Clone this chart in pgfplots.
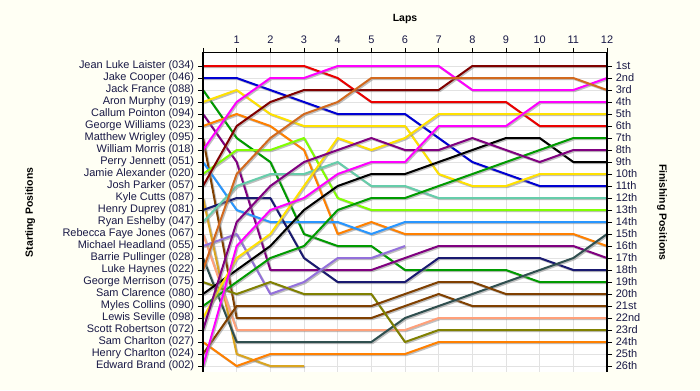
\documentclass[border=0pt]{standalone}
\usepackage{fontspec}
\setmainfont{Liberation Sans}
\usepackage{pgfplots}
\pgfplotsset{compat=1.18}
\definecolor{bgc}{RGB}{255,255,244}
\definecolor{txt}{RGB}{25,25,70}
\definecolor{gridc}{RGB}{226,226,226}
\definecolor{cA}{RGB}{235,0,0}
\definecolor{cB}{RGB}{0,0,210}
\definecolor{cC}{RGB}{0,155,0}
\definecolor{cD}{RGB}{255,225,0}
\definecolor{cE}{RGB}{128,0,128}
\definecolor{cF}{RGB}{255,128,0}
\definecolor{cG}{RGB}{128,64,0}
\definecolor{cH}{RGB}{255,0,255}
\definecolor{cI}{RGB}{40,150,255}
\definecolor{cJ}{RGB}{128,255,0}
\definecolor{cK}{RGB}{128,0,0}
\definecolor{cL}{RGB}{218,165,32}
\definecolor{cM}{RGB}{25,25,112}
\definecolor{cN}{RGB}{102,205,170}
\definecolor{cO}{RGB}{255,160,122}
\definecolor{cP}{RGB}{147,112,219}
\definecolor{cQ}{RGB}{47,79,79}
\definecolor{cR}{RGB}{210,105,30}
\definecolor{cS}{RGB}{128,128,0}
\definecolor{cT}{RGB}{0,0,0}
\begin{document}
\fontsize{11}{12}\selectfont
\begin{tikzpicture}[x=1bp,y=1bp]
\useasboundingbox (0,0) rectangle (700,-390);
\fill[bgc] (0,0) rectangle (700,-390);
\pgfplotsset{
  bumpbase/.style={
    at={(203bp,-52.8bp)}, anchor=north west, scale only axis,
    width=404bp, height=319.2bp,
    xmin=0, xmax=12, ymin=-0.1, ymax=26.5, y dir=reverse,
    tick align=outside, major tick length=5bp,
    tick style={black, line width=0.8bp},
    ticklabel style={font=\fontsize{11}{12}\selectfont, text=txt},
    /pgf/number format/assume math mode=true,
    axis line style={draw=none},
    clip=false,
  }
}
\begin{axis}[bumpbase,
  xtick={0,1,...,12}, xticklabels={,1,2,3,4,5,6,7,8,9,10,11,12},
  xticklabel pos=upper, xtick pos=upper,
  ytick={1,2,...,26}, ytick pos=left,
  yticklabels={Jean Luke Laister (034),Jake Cooper (046),Jack France (088),Aron Murphy (019),Callum Pointon (094),George Williams (023),Matthew Wrigley (095),William Morris (018),Perry Jennett (051),Jamie Alexander (020),Josh Parker (057),Kyle Cutts (087),Henry Duprey (081),Ryan Eshelby (047),Rebecca Faye Jones (067),Michael Headland (055),Barrie Pullinger (028),Luke Haynes (022),George Merrison (075),Sam Clarence (080),Myles Collins (090),Lewis Seville (098),Scott Robertson (072),Sam Charlton (027),Henry Charlton (024),Edward Brand (002)},
  grid=major, grid style={gridc, line width=0.8bp},
  xlabel={Laps}, xlabel style={font=\bfseries\fontsize{10.5}{12}\selectfont, at={(axis description cs:0.5,1)}, anchor=center, yshift=34bp},
  ylabel={Starting Positions}, ylabel style={font=\bfseries\fontsize{10.5}{12}\selectfont, at={(axis description cs:-0.428,0.5)}, anchor=center},
  every axis plot/.append style={line width=2bp, line join=round, mark=none,
    preaction={draw=black!45, opacity=0.55, line width=2bp, transform canvas={xshift=1.2bp, yshift=-1.2bp}}},
  axis background/.style={fill=white},
]
\addplot[cA] coordinates {(0,1)(1,1)(2,1)(3,1)(4,2)(5,4)(6,4)(7,4)(8,4)(9,4)(10,6)(11,6)(12,6)};
\addplot[cB] coordinates {(0,2)(1,2)(2,3)(3,4)(4,5)(5,5)(6,5)(7,7)(8,9)(9,10)(10,11)(11,11)(12,11)};
\addplot[cC] coordinates {(0,3)(1,7)(2,9)(3,15)(4,16)(5,16)(6,18)(7,18)(8,18)(9,18)(10,19)(11,19)(12,19)};
\addplot[cD] coordinates {(0,4)(1,3)(2,5)(3,6)(4,6)(5,6)(6,6)(7,10)(8,11)(9,11)(10,10)(11,10)(12,10)};
\addplot[cE] coordinates {(0,5)(1,9)(2,18)(3,18)(4,18)(5,18)(6,17)(7,16)(8,16)(9,16)(10,16)(11,16)(12,17)};
\addplot[cF] coordinates {(0,6)(1,5)(2,6)(3,8)(4,15)(5,14)(6,15)(7,15)(8,15)(9,15)(10,15)(11,15)(12,16)};
\addplot[cG] coordinates {(0,7)(1,22)(2,22)(3,22)(4,22)(5,22)(6,21)(7,20)(8,21)(9,21)(10,21)(11,21)(12,21)};
\addplot[cH] coordinates {(0,8)(1,4)(2,2)(3,2)(4,1)(5,1)(6,1)(7,1)(8,3)(9,3)(10,3)(11,3)(12,2)};
\addplot[cI] coordinates {(0,9)(1,13)(2,14)(3,14)(4,14)(5,15)(6,14)(7,14)(8,14)(9,14)(10,14)(11,14)(12,14)};
\addplot[cJ] coordinates {(0,10)(1,8)(2,8)(3,7)(4,12)(5,13)(6,13)(7,13)(8,13)(9,13)(10,13)(11,13)(12,13)};
\addplot[cK] coordinates {(0,11)(1,6)(2,4)(3,3)(4,3)(5,3)(6,3)(7,3)(8,1)(9,1)(10,1)(11,1)(12,1)};
\addplot[cL] coordinates {(0,12)(1,25)(2,26)(3,26)};
\addplot[cM] coordinates {(0,13)(1,12)(2,12)(3,17)(4,19)(5,19)(6,19)(7,17)(8,17)(9,17)(10,17)(11,18)(12,18)};
\addplot[cN] coordinates {(0,14)(1,11)(2,10)(3,10)(4,9)(5,11)(6,11)(7,12)(8,12)(9,12)(10,12)(11,12)(12,12)};
\addplot[cO] coordinates {(0,15)(1,23)(2,23)(3,23)(4,23)(5,23)(6,23)(7,22)(8,22)(9,22)(10,22)(11,22)(12,22)};
\addplot[cP] coordinates {(0,16)(1,15)(2,20)(3,19)(4,17)(5,17)(6,16)};
\addplot[cQ] coordinates {(0,17)(1,24)(2,24)(3,24)(4,24)(5,24)(6,22)(7,21)(8,20)(9,19)(10,18)(11,17)(12,15)};
\addplot[cR] coordinates {(0,18)(1,10)(2,7)(3,5)(4,4)(5,2)(6,2)(7,2)(8,2)(9,2)(10,2)(11,2)(12,3)};
\addplot[cS] coordinates {(0,19)(1,20)(2,19)(3,20)(4,20)(5,20)(6,24)(7,23)(8,23)(9,23)(10,23)(11,23)(12,23)};
\addplot[cT] coordinates {(0,20)(1,18)(2,16)(3,13)(4,11)(5,10)(6,10)(7,9)(8,8)(9,7)(10,7)(11,9)(12,9)};
\addplot[cC] coordinates {(0,21)(1,19)(2,17)(3,16)(4,13)(5,12)(6,12)(7,11)(8,10)(9,9)(10,8)(11,7)(12,7)};
\addplot[cD] coordinates {(0,22)(1,17)(2,15)(3,11)(4,7)(5,8)(6,7)(7,5)(8,5)(9,5)(10,5)(11,5)(12,5)};
\addplot[cE] coordinates {(0,23)(1,14)(2,11)(3,9)(4,8)(5,7)(6,8)(7,8)(8,7)(9,8)(10,9)(11,8)(12,8)};
\addplot[cF] coordinates {(0,24)(1,26)(2,25)(3,25)(4,25)(5,25)(6,25)(7,24)(8,24)(9,24)(10,24)(11,24)(12,24)};
\addplot[cG] coordinates {(0,25)(1,21)(2,21)(3,21)(4,21)(5,21)(6,20)(7,19)(8,19)(9,20)(10,20)(11,20)(12,20)};
\addplot[cH] coordinates {(0,26)(1,16)(2,13)(3,12)(4,10)(5,9)(6,9)(7,6)(8,6)(9,6)(10,4)(11,4)(12,4)};
\draw[black, line width=1.2bp] (axis description cs:0,0) -- (axis description cs:0,1) -- (axis description cs:1,1);
\end{axis}
\begin{axis}[bumpbase,
  xtick=\empty, ytick={1,2,...,26}, ytick pos=right, yticklabel pos=right,
  yticklabels={1st,2nd,3rd,4th,5th,6th,7th,8th,9th,10th,11th,12th,13th,14th,15th,16th,17th,18th,19th,20th,21st,22nd,23rd,24th,25th,26th},
  ylabel={Finishing Positions}, ylabel style={font=\bfseries\fontsize{10.5}{12}\selectfont, at={(axis description cs:1.136,0.5)}, anchor=center, rotate=180},
]
\draw[black, line width=1.2bp] (axis description cs:1,0) -- (axis description cs:1,1);
\end{axis}
\end{tikzpicture}
\end{document}
